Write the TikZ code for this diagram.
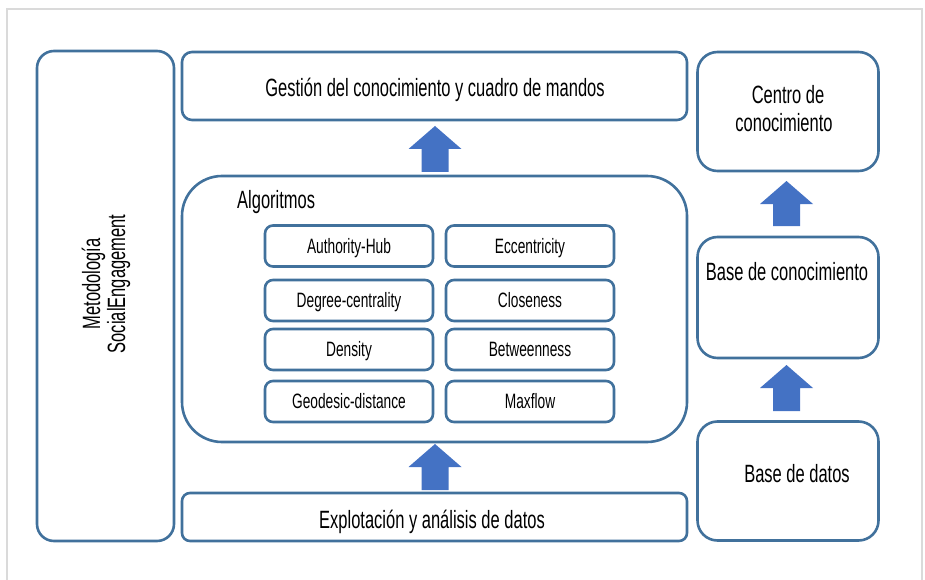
\documentclass[tikz,border=0pt]{standalone}
\usepackage{fontspec}
\setmainfont{Liberation Sans}[FakeStretch=0.66]
\definecolor{bord}{RGB}{65,113,156}
\definecolor{arrowc}{RGB}{68,114,196}
\definecolor{frame}{RGB}{218,218,218}
\tikzset{
  x=1pt,y=-1pt,
  box/.style={draw=bord, line width=2.6pt, fill=white, inner sep=0pt},
  bigtxt/.style={font=\fontsize{25}{28}\selectfont, align=center, inner sep=0pt},
  smalltxt/.style={font=\fontsize{20.8}{24}\selectfont},
  algbox/.style={box, rounded corners=8pt, minimum width=168pt, minimum height=41pt, smalltxt, text height=14.5pt, text depth=0pt},
  blockup/.style={fill=arrowc}
}
\newcommand{\blockarrow}[4]{% name, center x, tip y, bottom y
  \fill[blockup] (#2,#3) coordinate (#1tip) -- (#2+26.5,#3+23) -- (#2+13.5,#3+23) -- (#2+13.5,#4) coordinate (#1bot)
   -- (#2-13.5,#4) -- (#2-13.5,#3+23) -- (#2-26.5,#3+23) -- cycle;}
\begin{document}
\begin{tikzpicture}
\useasboundingbox (0,0) rectangle (925,580);
% outer frame
\draw[frame, line width=1.6pt] (7,585) -- (7,9) -- (922,9) -- (922,585);

% left box
\node[box, rounded corners=17pt, minimum width=137pt, minimum height=490pt] (met) at (105.5,296) {};
\node[bigtxt, font=\fontsize{25}{25}\selectfont, rotate=90] (mett) at (106,284) {Metodología\\SocialEngagement};

% top box
\node[box, rounded corners=10pt, minimum width=505pt, minimum height=68pt] (ges) at (434.5,86) {};
\node[bigtxt, anchor=base] (gest) at (435,97) {Gestión del conocimiento y cuadro de mandos};

% algorithms box
\node[box, rounded corners=40pt, minimum width=505pt, minimum height=266pt] (alg) at (434.5,309) {};
\node[bigtxt, anchor=base west] (algt) at (237,208) {Algoritmos};

\node[algbox] (a1) at (349,246) {Authority-Hub};
\node[algbox] (a2) at (530,246) {Eccentricity};
\node[algbox] (a3) at (349,300.5) {Degree-centrality};
\node[algbox] (a4) at (530,300.5) {Closeness};
\node[algbox] (a5) at (349,349.5) {Density};
\node[algbox] (a6) at (530,349.5) {Betweenness};
\node[algbox] (a7) at (349,401.5) {Geodesic-distance};
\node[algbox] (a8) at (530,401.5) {Maxflow};

% bottom box
\node[box, rounded corners=8pt, minimum width=505pt, minimum height=48pt] (exp) at (434.5,517) {};
\node[bigtxt, anchor=base] (expt) at (432,528) {Explotación y análisis de datos};

% right column
\node[box, rounded corners=20pt, minimum width=181pt, minimum height=119pt] (cen) at (788,111.5) {};
\node[bigtxt, anchor=base] (cent1) at (788,104) {Centro de};
\node[bigtxt, anchor=base] (cent2) at (784,132) {conocimiento};
\node[box, rounded corners=20pt, minimum width=181pt, minimum height=121pt] (bco) at (788,297.5) {};
\node[bigtxt, anchor=base] (bcot) at (787,280) {Base de conocimiento};
\node[box, rounded corners=20pt, minimum width=181pt, minimum height=119pt] (bda) at (788,481) {};
\node[bigtxt, anchor=base] (bdat) at (797,482) {Base de datos};

% block arrows
\blockarrow{ua}{435}{126}{172}
\blockarrow{ub}{435}{444}{490}
\blockarrow{uc}{786.5}{181}{226}
\blockarrow{ud}{786.5}{365}{411}
\end{tikzpicture}
\end{document}
